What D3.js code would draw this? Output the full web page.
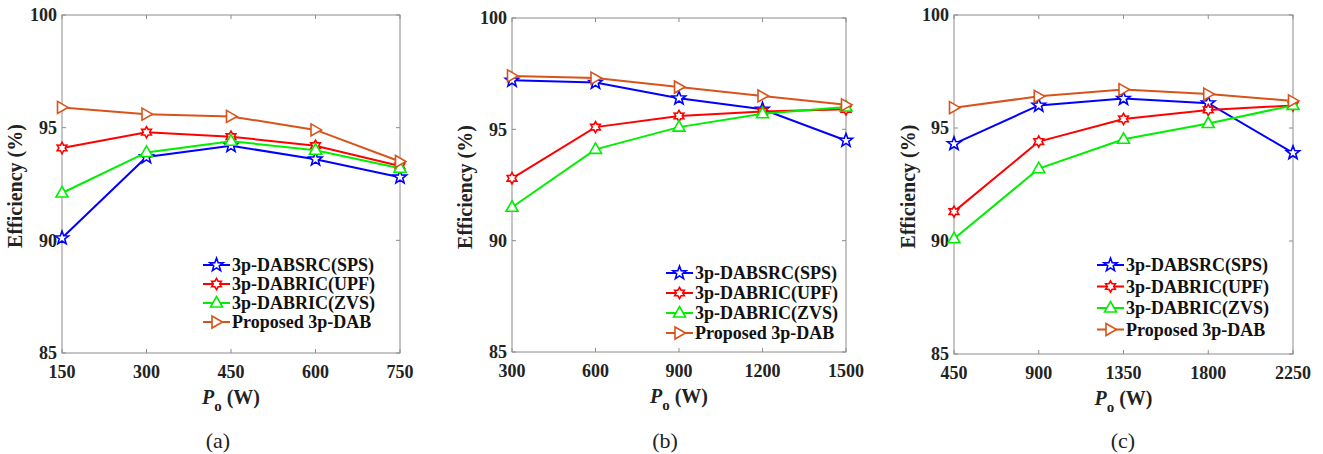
<!DOCTYPE html>
<head>
  <meta charset="utf-8">
  <script src="https://d3js.org/d3.v7.min.js"></script>
  <style>
    html, body { margin: 0; padding: 0; background: #ffffff; }
    text { font-family: 'Liberation Serif', 'Times New Roman', serif; fill: #111111; }
    .tick-label { font-size: 18px; font-weight: 700; fill: #222222; }
    .axis-title { font-size: 20px; font-weight: 700; fill: #222222; }
    .legend-label { font-size: 18px; font-weight: 700; fill: #111111; }
    .caption { font-size: 22px; font-weight: 400; fill: #222222; }
    .frame { fill: none; stroke: #8c8c8c; stroke-width: 1; }
    .tick { stroke: #8c8c8c; stroke-width: 1; }
  </style>
</head>

<body>
<div id="chart"></div>

<script>

///////////////////////////////////////////////////////////////////////////
//////////////////////////////// Data ////////////////////////////////////
///////////////////////////////////////////////////////////////////////////

const seriesNames = ["3p-DABSRC(SPS)", "3p-DABRIC(UPF)", "3p-DABRIC(ZVS)", "Proposed 3p-DAB"];
const seriesColors = ["#0000ff", "#ff0000", "#00ee00", "#d95319"];
const seriesMarkers = ["pentagram", "hexagram", "triangleUp", "triangleRight"];

const yTicks = [85, 90, 95, 100];

// (a)
const powerA = [150, 300, 450, 600, 750];
const spsA      = [90.1, 93.7, 94.2, 93.6, 92.8];
const upfA      = [94.1, 94.8, 94.6, 94.2, 93.3];
const zvsA      = [92.1, 93.9, 94.4, 94.0, 93.2];
const proposedA = [95.9, 95.6, 95.5, 94.9, 93.5];

// (b)
const powerB = [300, 600, 900, 1200, 1500];
const spsB      = [97.2, 97.1, 96.4, 95.9, 94.5];
const upfB      = [92.8, 95.1, 95.6, 95.8, 95.9];
const zvsB      = [91.5, 94.1, 95.1, 95.7, 96.0];
const proposedB = [97.4, 97.3, 96.9, 96.5, 96.1];

// (c)
const powerC = [450, 900, 1350, 1800, 2250];
const spsC      = [94.3, 96.0, 96.3, 96.1, 93.9];
const upfC      = [91.3, 94.4, 95.4, 95.8, 96.0];
const zvsC      = [90.1, 93.2, 94.5, 95.2, 96.0];
const proposedC = [95.9, 96.4, 96.7, 96.5, 96.2];

///////////////////////////////////////////////////////////////////////////
////////////////////////////// Layout ////////////////////////////////////
///////////////////////////////////////////////////////////////////////////

const panels = [
  { caption: "(a)", x: powerA, series: [spsA, upfA, zvsA, proposedA],
    left: 62, right: 400, top: 15, bottom: 353,
    legendX: 203, legendY: 265, legendStep: 19, captionX: 218, yTitleX: 15 },
  { caption: "(b)", x: powerB, series: [spsB, upfB, zvsB, proposedB],
    left: 512, right: 846, top: 18, bottom: 352,
    legendX: 666, legendY: 273, legendStep: 20, captionX: 665, yTitleX: 465 },
  { caption: "(c)", x: powerC, series: [spsC, upfC, zvsC, proposedC],
    left: 954, right: 1293, top: 15, bottom: 354,
    legendX: 1097, legendY: 265, legendStep: 21.5, captionX: 1123, yTitleX: 908 }
];

const svg = d3.select("#chart")
  .append("svg")
  .attr("width", 1323)
  .attr("height", 454);

///////////////////////////////////////////////////////////////////////////
////////////////////////////// Markers ///////////////////////////////////
///////////////////////////////////////////////////////////////////////////

function starPath(points, outer, inner, rot) {
  const pts = [];
  for (let i = 0; i < points * 2; i++) {
    const r = i % 2 === 0 ? outer : inner;
    const a = rot + i * Math.PI / points;
    pts.push([r * Math.sin(a), -r * Math.cos(a)]);
  }
  return "M" + pts.map(p => p[0].toFixed(2) + "," + p[1].toFixed(2)).join("L") + "Z";
}

const markerPaths = {
  pentagram: starPath(5, 7, 2.9, 0),
  hexagram: starPath(6, 5.6, 3.2, 0),
  triangleUp: "M0,-6.5L6,4L-6,4Z",
  triangleRight: "M-4.5,-6L6,0L-4.5,6Z"
};

function drawMarker(g, type, color, cx, cy) {
  g.append("path")
    .attr("d", markerPaths[type])
    .attr("transform", "translate(" + cx + "," + cy + ")")
    .style("fill", "#ffffff")
    .style("stroke", color)
    .style("stroke-width", 1.6)
    .style("stroke-linejoin", "miter");
}

///////////////////////////////////////////////////////////////////////////
/////////////////////////////// Panels ///////////////////////////////////
///////////////////////////////////////////////////////////////////////////

panels.forEach(p => {
  const g = svg.append("g");

  const xScale = d3.scaleLinear()
    .domain([p.x[0], p.x[p.x.length - 1]])
    .range([p.left, p.right]);

  const yScale = d3.scaleLinear()
    .domain([85, 100])
    .range([p.bottom, p.top]);

  // frame
  g.append("rect")
    .attr("class", "frame")
    .attr("x", p.left)
    .attr("y", p.top)
    .attr("width", p.right - p.left)
    .attr("height", p.bottom - p.top);

  // inward ticks, mirrored on the opposite side
  p.x.forEach(v => {
    g.append("line").attr("class", "tick")
      .attr("x1", xScale(v)).attr("x2", xScale(v))
      .attr("y1", p.bottom).attr("y2", p.bottom - 4);
    g.append("line").attr("class", "tick")
      .attr("x1", xScale(v)).attr("x2", xScale(v))
      .attr("y1", p.top).attr("y2", p.top + 4);
    g.append("text")
      .attr("class", "tick-label")
      .attr("x", xScale(v))
      .attr("y", p.bottom + 25)
      .attr("text-anchor", "middle")
      .text(v);
  });

  yTicks.forEach(v => {
    g.append("line").attr("class", "tick")
      .attr("x1", p.left).attr("x2", p.left + 4)
      .attr("y1", yScale(v)).attr("y2", yScale(v));
    g.append("line").attr("class", "tick")
      .attr("x1", p.right).attr("x2", p.right - 4)
      .attr("y1", yScale(v)).attr("y2", yScale(v));
    g.append("text")
      .attr("class", "tick-label")
      .attr("x", p.left - 5)
      .attr("y", yScale(v))
      .attr("dy", "0.35em")
      .attr("text-anchor", "end")
      .text(v);
  });

  // axis titles
  const xt = g.append("text")
    .attr("class", "axis-title")
    .attr("x", (p.left + p.right) / 2)
    .attr("y", p.bottom + 51)
    .attr("text-anchor", "middle");
  xt.append("tspan").style("font-style", "italic").text("P");
  xt.append("tspan").attr("dy", 7).style("font-size", "15px").text("o");
  xt.append("tspan").attr("dy", -7).text(" (W)");

  g.append("text")
    .attr("class", "axis-title")
    .attr("transform", "translate(" + (p.yTitleX + 7) + "," + ((p.top + p.bottom) / 2 + 2) + ") rotate(-90)")
    .attr("text-anchor", "middle")
    .text("Efficiency (%)");

  // caption
  g.append("text")
    .attr("class", "caption")
    .attr("x", p.captionX)
    .attr("y", 448)
    .attr("text-anchor", "middle")
    .text(p.caption);

  // series
  const line = d3.line()
    .x(d => xScale(d[0]))
    .y(d => yScale(d[1]));

  p.series.forEach((vals, i) => {
    const pts = p.x.map((xv, j) => [xv, vals[j]]);
    g.append("path")
      .datum(pts)
      .attr("d", line)
      .style("fill", "none")
      .style("stroke", seriesColors[i])
      .style("stroke-width", 2);
    pts.forEach(d => drawMarker(g, seriesMarkers[i], seriesColors[i], xScale(d[0]), yScale(d[1])));
  });

  // legend
  seriesNames.forEach((name, i) => {
    const ly = p.legendY + i * p.legendStep;
    g.append("line")
      .attr("x1", p.legendX).attr("x2", p.legendX + 27)
      .attr("y1", ly).attr("y2", ly)
      .style("stroke", seriesColors[i])
      .style("stroke-width", 2);
    drawMarker(g, seriesMarkers[i], seriesColors[i], p.legendX + 13.5, ly);
    g.append("text")
      .attr("class", "legend-label")
      .attr("x", p.legendX + 29)
      .attr("y", ly)
      .attr("dy", "0.35em")
      .text(name);
  });
});

</script>
</body>
